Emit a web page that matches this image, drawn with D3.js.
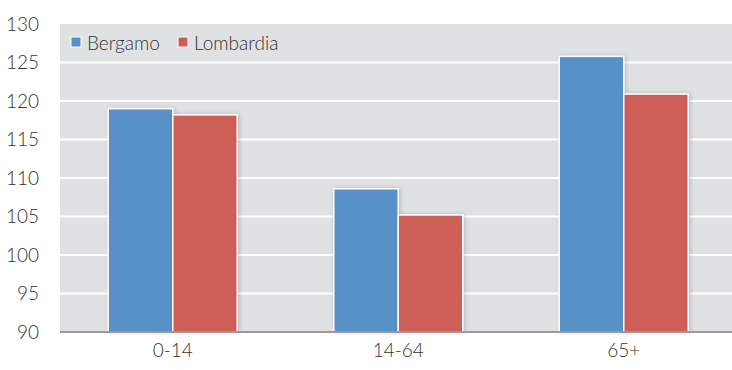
<!DOCTYPE html>
<html>
<head>
<meta charset="utf-8">
<script src="https://cdn.jsdelivr.net/npm/d3@7"></script>
<style>
  html, body { margin: 0; padding: 0; background: #fff; }
  svg { display: block; font-family: Lato, "Open Sans", sans-serif; }
</style>
</head>
<body>
<svg id="chart" width="732" height="370"></svg>
<script>
// Age groups and index values per area
const categories = ["0-14", "14-64", "65+"];
const seriesNames = ["Bergamo", "Lombardia"];
const bergamo = [119.0, 108.6, 125.8];
const lombardia = [118.2, 105.2, 120.9];
const yTicks = [90, 95, 100, 105, 110, 115, 120, 125, 130];
const colors = ["#5890c8", "#cd5e57"];

const series = [bergamo, lombardia];
const width = 732, height = 370;
const margin = { top: 24, right: 0, bottom: 38, left: 60 };
const fontFamily = "Lato, 'Open Sans', sans-serif";

const svg = d3.select("#chart");

const x0 = d3.scaleBand()
  .domain(categories)
  .range([margin.left, 736.5])
  .paddingInner(0.428)
  .paddingOuter(0.214);

const x1 = d3.scaleBand()
  .domain(seriesNames)
  .range([0, x0.bandwidth()]);

const y = d3.scaleLinear()
  .domain([90, 130])
  .range([height - margin.bottom, margin.top]);

const color = d3.scaleOrdinal().domain(seriesNames).range(colors);

// soft shadow behind the bars
const defs = svg.append("defs");
const f = defs.append("filter").attr("id", "shadow")
  .attr("x", "-20%").attr("y", "-10%").attr("width", "140%").attr("height", "120%");
f.append("feDropShadow").attr("dx", 1.5).attr("dy", 0).attr("stdDeviation", 2)
  .attr("flood-color", "#000").attr("flood-opacity", 0.18);

// plot background
svg.append("rect")
  .attr("x", margin.left).attr("y", margin.top)
  .attr("width", width - margin.left - margin.right)
  .attr("height", height - margin.top - margin.bottom)
  .attr("fill", "#e0e1e3");

// horizontal gridlines
svg.append("g")
  .selectAll("line")
  .data(yTicks.filter(t => t > 90 && t < 130))
  .join("line")
  .attr("x1", margin.left).attr("x2", width - margin.right)
  .attr("y1", d => y(d)).attr("y2", d => y(d))
  .attr("stroke", "#fff").attr("stroke-width", 2);

// y axis labels
const yAxis = d3.axisLeft(y).tickValues(yTicks).tickSize(0).tickPadding(0);
const gy = svg.append("g")
  .attr("transform", `translate(${margin.left - 21},0)`)
  .call(yAxis);
gy.select(".domain").remove();
gy.selectAll("text")
  .attr("font-size", 19).attr("font-weight", 300).attr("fill", "#333")
  .attr("font-family", fontFamily);

// bars
const groups = svg.append("g")
  .selectAll("g")
  .data(categories)
  .join("g")
  .attr("transform", d => `translate(${x0(d)},0)`);

groups.selectAll("rect")
  .data((d, i) => seriesNames.map((s, j) => ({ name: s, value: series[j][i] })))
  .join("rect")
  .attr("x", d => x1(d.name))
  .attr("y", d => y(d.value))
  .attr("width", x1.bandwidth())
  .attr("height", d => y(90) - y(d.value))
  .attr("fill", d => color(d.name))
  .attr("stroke", "#fff")
  .attr("stroke-width", 1.5)
  .attr("filter", "url(#shadow)");

// x axis
const xAxis = d3.axisBottom(x0).tickSize(0).tickPadding(12);
const gx = svg.append("g")
  .attr("transform", `translate(0,${y(90)})`)
  .call(xAxis);
gx.select(".domain").attr("stroke", "#9a9a9a").attr("stroke-width", 2)
  .attr("d", `M${margin.left},0H${width}`);
gx.selectAll("text")
  .attr("font-size", 19).attr("font-weight", 300).attr("fill", "#333")
  .attr("font-family", fontFamily);

// legend
const legend = svg.append("g").attr("transform", "translate(71,37)");
const legendX = [0, 107];
seriesNames.forEach((s, i) => {
  const g = legend.append("g").attr("transform", `translate(${legendX[i]},0)`);
  g.append("rect")
    .attr("width", 10).attr("height", 10)
    .attr("fill", color(s)).attr("stroke", "#fff").attr("stroke-width", 1);
  g.append("text")
    .attr("x", 16).attr("y", 12.5)
    .attr("font-size", 19).attr("font-weight", 300).attr("fill", "#333")
    .attr("font-family", fontFamily)
    .text(s);
});
</script>
</body>
</html>
